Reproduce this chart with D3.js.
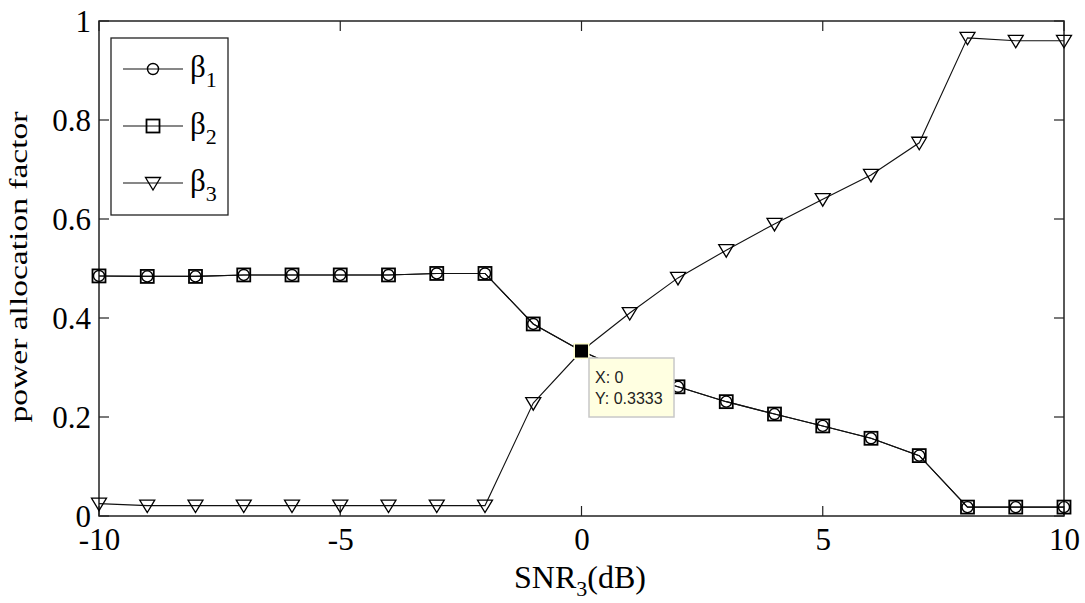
<!DOCTYPE html>
<html><head><meta charset="utf-8">
<script src="https://cdn.jsdelivr.net/npm/d3@7"></script>
<style>body{margin:0;background:#fff}svg{display:block}
.serif{font-family:"Liberation Serif","Times New Roman",Times,serif}</style>
</head><body>
<script>
const snr = [-10,-9,-8,-7,-6,-5,-4,-3,-2,-1,0,1,2,3,4,5,6,7,8,9,10];
const beta1 = [0.485,0.484,0.484,0.487,0.487,0.487,0.487,0.490,0.490,0.388,0.3333,0.290,0.261,0.231,0.206,0.182,0.157,0.122,0.018,0.018,0.018];
const beta2 = [0.485,0.484,0.484,0.487,0.487,0.487,0.487,0.490,0.490,0.388,0.3333,0.290,0.261,0.231,0.206,0.182,0.157,0.122,0.018,0.018,0.018];
const beta3 = [0.025,0.021,0.021,0.021,0.021,0.021,0.021,0.021,0.021,0.228,0.3333,0.410,0.481,0.537,0.590,0.640,0.689,0.754,0.966,0.960,0.960];
const xTicks = [-10,-5,0,5,10];
const yTicks = [0,0.2,0.4,0.6,0.8,1];
const seriesNames = ["1","2","3"];
const tipX = 0, tipY = 0.3333;

const W=1085,H=603;
const svg=d3.select("body").append("svg").attr("width",W).attr("height",H);
const x=d3.scaleLinear().domain([-10,10]).range([99,1064]);
const y=d3.scaleLinear().domain([0,1]).range([516,21]);

// axes box
const g=svg.append("g");
g.append("rect").attr("x",x(-10)).attr("y",y(1)).attr("width",x(10)-x(-10)).attr("height",y(0)-y(1))
 .attr("fill","none").attr("stroke","#222").attr("stroke-width",1.5);

// ticks inside
const tl=10;
xTicks.forEach(t=>{
  g.append("line").attr("x1",x(t)).attr("x2",x(t)).attr("y1",y(0)).attr("y2",y(0)-tl).attr("stroke","#222").attr("stroke-width",1.2);
  g.append("line").attr("x1",x(t)).attr("x2",x(t)).attr("y1",y(1)).attr("y2",y(1)+tl).attr("stroke","#222").attr("stroke-width",1.2);
});
yTicks.forEach(t=>{
  g.append("line").attr("x1",x(-10)).attr("x2",x(-10)+tl).attr("y1",y(t)).attr("y2",y(t)).attr("stroke","#222").attr("stroke-width",1.2);
  g.append("line").attr("x1",x(10)).attr("x2",x(10)-tl).attr("y1",y(t)).attr("y2",y(t)).attr("stroke","#222").attr("stroke-width",1.2);
});

// tick labels
const xAxis=d3.axisBottom(x).tickValues(xTicks).tickSize(0).tickPadding(0).tickFormat(d=>String(d));
const xa=svg.append("g").attr("transform",`translate(0,${y(0)})`).call(xAxis);
xa.select(".domain").remove();
xa.attr("font-family",null).attr("font-size",null);
xa.selectAll("text").attr("class","serif").attr("font-size",31).attr("fill","#000").attr("dy",null).attr("y",34);
const yAxis=d3.axisLeft(y).tickValues(yTicks).tickSize(0).tickPadding(0).tickFormat(d=>d===0?"0":d===1?"1":d3.format(".1f")(d));
const ya=svg.append("g").attr("transform",`translate(${x(-10)-8},0)`).call(yAxis);
ya.select(".domain").remove();
ya.attr("font-family",null).attr("font-size",null);
ya.selectAll("text").attr("class","serif").attr("font-size",31).attr("fill","#000").attr("dy","0.33em");

// axis labels
const xl=svg.append("text").attr("class","serif").attr("x",580).attr("y",588).attr("text-anchor","middle")
 .attr("font-size",32).attr("fill","#000");
xl.append("tspan").text("SNR");
xl.append("tspan").attr("font-size",22).attr("dy",8).text("3");
xl.append("tspan").attr("dy",-8).text("(dB)");
svg.append("text").attr("class","serif").attr("transform","translate(27,267) rotate(-90)").attr("text-anchor","middle")
 .attr("font-size",25).attr("fill","#000")
 .attr("textLength",311).attr("lengthAdjust","spacingAndGlyphs").text("power allocation factor");

// lines
const line=d3.line().x(d=>x(d[0])).y(d=>y(d[1]));
const series=[beta1,beta2,beta3].map(arr=>snr.map((s,i)=>[s,arr[i]]));
series.forEach(s=>{
  svg.append("path").attr("d",line(s)).attr("fill","none").attr("stroke","#111").attr("stroke-width",1.1);
});

// markers
function drawMarker(sel,type,cx,cy){
  if(type===0){
    sel.append("circle").attr("cx",cx).attr("cy",cy).attr("r",5.5).attr("fill","none").attr("stroke","#000").attr("stroke-width",1.4);
  } else if(type===1){
    sel.append("rect").attr("x",cx-6.5).attr("y",cy-6.5).attr("width",13).attr("height",13).attr("fill","none").attr("stroke","#000").attr("stroke-width",1.8);
  } else {
    sel.append("path").attr("d",`M${cx-7.5},${cy-5.5}L${cx+7.5},${cy-5.5}L${cx},${cy+7}Z`).attr("fill","none").attr("stroke","#000").attr("stroke-width",1.3);
  }
}
const mk=svg.append("g");
series.forEach((s,k)=>{ s.forEach(p=>drawMarker(mk,k,x(p[0]),y(p[1]))); });

// legend
const lg=svg.append("g");
lg.append("rect").attr("x",111).attr("y",38).attr("width",117).attr("height",177).attr("fill","#fff").attr("stroke","#222").attr("stroke-width",1.3);
seriesNames.forEach((n,i)=>{
  const cy=69+i*57;
  lg.append("line").attr("x1",123).attr("x2",183).attr("y1",cy).attr("y2",cy).attr("stroke","#111").attr("stroke-width",1.1);
  drawMarker(lg,i,153,cy);
  const t=lg.append("text").attr("class","serif").attr("x",190).attr("y",cy+8).attr("font-size",31).attr("fill","#000");
  t.append("tspan").text("β");
  t.append("tspan").attr("font-size",22).attr("dy",10).text(n);
});

// data tip
const tx=x(tipX), ty=y(tipY);
svg.append("rect").attr("x",tx-8).attr("y",ty-8).attr("width",16).attr("height",16).attr("fill","#ffffd0").attr("stroke","none");
svg.append("rect").attr("x",tx-6.5).attr("y",ty-6.5).attr("width",13).attr("height",13).attr("fill","#000");
svg.append("rect").attr("x",589).attr("y",358).attr("width",85).attr("height",59).attr("fill","#ffffe1").attr("stroke","#c8c8c8").attr("stroke-width",1.5);
const sans="'Liberation Sans',Arial,sans-serif";
svg.append("text").attr("x",595).attr("y",383).attr("font-family",sans).attr("font-size",16).attr("fill","#222").text(`X: ${tipX}`);
svg.append("text").attr("x",595).attr("y",404).attr("font-family",sans).attr("font-size",16).attr("fill","#222").text(`Y: ${d3.format(".4f")(tipY)}`);
</script>
</body></html>
